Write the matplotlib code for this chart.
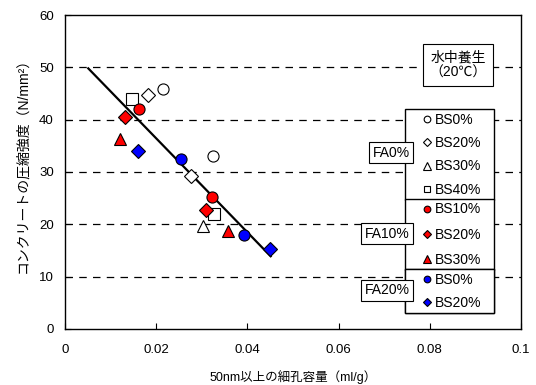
import numpy as np
import matplotlib
matplotlib.use('Agg')
import matplotlib.pyplot as plt

plt.rcParams['font.family'] = ['Liberation Sans', 'Noto Sans CJK JP', 'DejaVu Sans']

# pore volume above 50nm (ml/g) and compressive strength (N/mm2)
fa0_bs0_x = [0.0214, 0.0324]
fa0_bs0_y = [45.9, 33.1]
fa0_bs20_x = [0.0183, 0.0276]
fa0_bs20_y = [44.8, 29.3]
fa0_bs30_x = [0.0302]
fa0_bs30_y = [19.7]
fa0_bs40_x = [0.0146, 0.0327]
fa0_bs40_y = [43.9, 22.0]
fa10_bs10_x = [0.0162, 0.0322]
fa10_bs10_y = [42.0, 25.2]
fa10_bs20_x = [0.0132, 0.0309]
fa10_bs20_y = [40.5, 22.8]
fa10_bs30_x = [0.0121, 0.0358]
fa10_bs30_y = [36.3, 18.8]
fa20_bs0_x = [0.0254, 0.0392]
fa20_bs0_y = [32.5, 18.0]
fa20_bs20_x = [0.0161, 0.0450]
fa20_bs20_y = [34.1, 15.3]

# regression line end points
fit_x = [0.0051, 0.0451]
fit_y = [49.8, 13.9]

fig = plt.figure(figsize=(5.36, 3.85), dpi=100)
ax = fig.add_axes([0.1213, 0.1455, 0.8507, 0.8155])

for yv in [10, 20, 30, 40, 50]:
    ax.axhline(yv, color='black', lw=0.9, ls=(0, (6, 5)), zorder=1)

ax.plot(fit_x, fit_y, color='black', lw=1.6, zorder=2)

ms = 8
mew = 0.8
def pts(x, y, m, fc, lab, size=ms):
    h, = ax.plot(x, y, ls='none', marker=m, ms=size, mfc=fc, mec='black',
                 mew=mew, label=lab, zorder=3)
    return h

g0 = [pts(fa0_bs0_x, fa0_bs0_y, 'o', 'white', 'BS0%'),
      pts(fa0_bs20_x, fa0_bs20_y, 'D', 'white', 'BS20%', 6.8),
      pts(fa0_bs30_x, fa0_bs30_y, '^', 'white', 'BS30%', 9),
      pts(fa0_bs40_x, fa0_bs40_y, 's', 'white', 'BS40%')]
g1 = [pts(fa10_bs10_x, fa10_bs10_y, 'o', 'red', 'BS10%'),
      pts(fa10_bs20_x, fa10_bs20_y, 'D', 'red', 'BS20%', 6.8),
      pts(fa10_bs30_x, fa10_bs30_y, '^', 'red', 'BS30%', 9)]
g2 = [pts(fa20_bs0_x, fa20_bs0_y, 'o', 'blue', 'BS0%'),
      pts(fa20_bs20_x, fa20_bs20_y, 'D', 'blue', 'BS20%', 6.8)]

ax.set_xlim(0, 0.1)
ax.set_ylim(0, 60)
ax.set_xticks([0, 0.02, 0.04, 0.06, 0.08, 0.1])
ax.set_xticklabels(['0', '0.02', '0.04', '0.06', '0.08', '0.1'])
ax.set_yticks([0, 10, 20, 30, 40, 50, 60])
ax.tick_params(direction='in', length=4, width=0.8, labelsize=9.5)
ax.tick_params(axis='x', pad=11)
ax.tick_params(axis='y', pad=8)
for s in ax.spines.values():
    s.set_linewidth(1.0)

ax.set_xlabel('50nm以上の細孔容量（ml/g）', fontsize=9, labelpad=10)
ax.set_ylabel('コンクリートの圧縮強度（N/mm²）', fontsize=10)
ax.yaxis.set_label_coords(-0.078, 0.532)

tops = [0.6997, 0.414, 0.190]
spacings = [0.67, 0.8, 0.64]
for grp, top, sp in zip([g0, g1, g2], tops, spacings):
    leg = ax.legend(handles=grp, loc='upper left', mode='expand',
                    bbox_to_anchor=(0.746, 0, 0.195, top), borderaxespad=0,
                    markerscale=0.6, handlelength=2.66, handletextpad=-0.75,
                    labelspacing=sp, borderpad=0.25,
                    fancybox=False, framealpha=1, edgecolor='black',
                    prop={'family': 'Liberation Sans', 'size': 10})
    leg.get_frame().set_linewidth(1.0)
    ax.add_artist(leg)

box = dict(boxstyle='square,pad=0.25', fc='white', ec='black', lw=0.8)
for lab, yy in zip(['FA0%', 'FA10%', 'FA20%'], [0.562, 0.304, 0.124]):
    ax.text(0.7555, yy, lab, transform=ax.transAxes, fontsize=10,
            ha='right', va='center', bbox=box, zorder=6)

ax.text(0.862, 0.841, '水中養生\n（20℃）', transform=ax.transAxes, fontsize=10,
        ha='center', va='center', linespacing=1.15, zorder=6,
        bbox=dict(boxstyle='square,pad=0.45', fc='white', ec='black', lw=0.8))

fig.savefig('out.png', dpi=100)
